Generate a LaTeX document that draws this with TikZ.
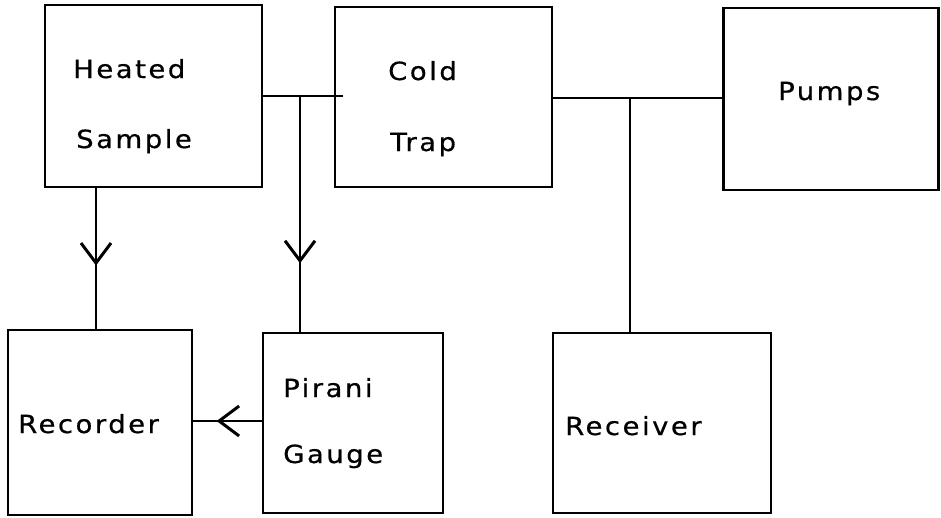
\documentclass[tikz,border=0pt]{standalone}
\usepackage{fontspec}
\setmainfont[LetterSpace=10, FakeStretch=1.1, FakeBold=0.6]{DejaVu Sans}
\usetikzlibrary{arrows.meta,decorations.markings}

\tikzset{
  unit/.style={draw, line width=2.9pt, rectangle, inner sep=0pt},
  caption/.style={anchor=base west, inner sep=0pt, font=\fontsize{25}{30}\selectfont},
  pipe/.style={line width=2.5pt},
  midtip/.style={pipe, postaction={decorate}, decoration={markings,
      mark=at position #1 with {\arrow{Straight Barb[length=20pt,width=30pt,line width=3pt]}}}},
}

\begin{document}
\begin{tikzpicture}[x=1pt, y=-1pt]
  \useasboundingbox (0,0) rectangle (941,517);

  % equipment boxes
  \node[unit, minimum width=217pt, minimum height=182pt] (hs)  at (153.5, 96)  {};
  \node[unit, minimum width=217pt, minimum height=180pt] (ct)  at (443.5, 97)  {};
  \node[unit, minimum width=215pt, minimum height=182pt] (pu)  at (831.0, 99)  {};
  \node[unit, minimum width=184pt, minimum height=185pt] (rec) at (100.0, 422.5) {};
  \node[unit, minimum width=180pt, minimum height=180pt] (pg)  at (353.0, 423) {};
  \node[unit, minimum width=218pt, minimum height=180pt] (rv)  at (662.0, 423) {};

  % labels
  \node[caption] (t1) at (73, 78)  {Heated};
  \node[caption] (t2) at (76, 148) {Sample};
  \node[caption] (t3) at (388, 80) {Cold};
  \node[caption] (t4) at (390, 151) {Trap};
  \node[caption] (t5) at (778, 100) {Pumps};
  \node[caption] (t6) at (18, 433)  {Recorder};
  \node[caption] (t7) at (283, 397) {Pirani};
  \node[caption] (t8) at (283, 463) {Gauge};
  \node[caption] (t9) at (565, 435) {Receiver};

  % junction points on the vacuum lines
  \coordinate (j1) at (300, 96);
  \coordinate (j2) at (630, 98);
  \coordinate (stub) at (343, 96);

  % vacuum lines
  \draw[pipe] (hs.east |- j1) -- (stub);
  \draw[pipe] (ct.east |- j2) -- (pu.west |- j2);
  \draw[pipe] (j2) -- (j2 |- rv.north);

  % signal lines with mid arrows
  \draw[midtip=0.55] (hs.south -| 96,0) -- (rec.north -| 96,0);
  \draw[midtip=0.71] (j1) -- (j1 |- pg.north);
  \draw[midtip=0.66] (pg.west |- 0,421) -- (rec.east |- 0,421);
\end{tikzpicture}
\end{document}
